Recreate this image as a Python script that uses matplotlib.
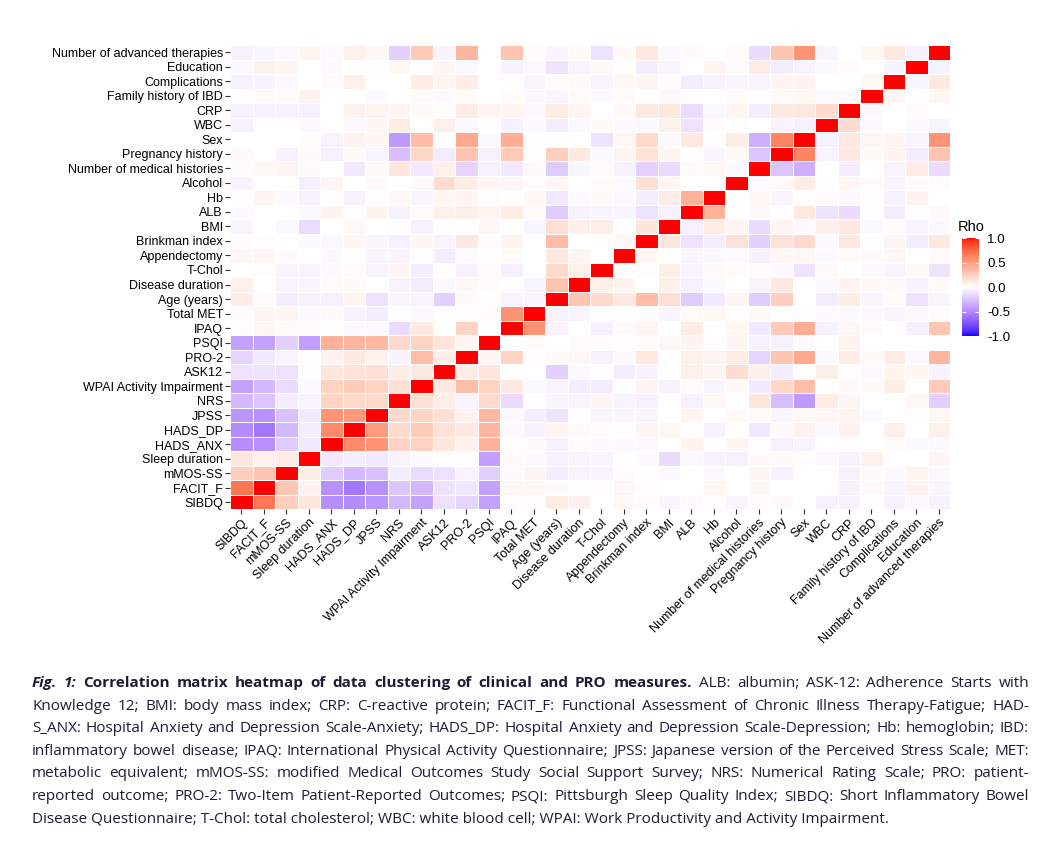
import numpy as np
import matplotlib
matplotlib.use("Agg")
import matplotlib.pyplot as plt
from matplotlib.colors import ListedColormap

W, H = 1061, 846

# == DATOS ==
labels = [
    "SIBDQ", "FACIT_F", "mMOS-SS", "Sleep duration", "HADS_ANX", "HADS_DP", "JPSS", "NRS",
    "WPAI Activity Impairment", "ASK12", "PRO-2", "PSQI", "IPAQ", "Total MET", "Age (years)",
    "Disease duration", "T-Chol", "Appendectomy", "Brinkman index", "BMI", "ALB", "Hb", "Alcohol",
    "Number of medical histories", "Pregnancy history", "Sex", "WBC", "CRP",
    "Family history of IBD", "Complications", "Education", "Number of advanced therapies",
]

# triangulo inferior: fila i -> columnas 0..i-1
rho_lower = [
    [],
    [0.68],
    [0.25, 0.3],
    [0.13, 0.07, 0.1],
    [-0.48, -0.47, -0.22, -0.1],
    [-0.5, -0.58, -0.3, -0.08, 0.6],
    [-0.45, -0.47, -0.27, -0.1, 0.55, 0.52],
    [-0.3, -0.25, -0.08, -0.05, 0.22, 0.2, 0.2],
    [-0.4, -0.3, -0.15, -0.02, 0.24, 0.28, 0.22, 0.16],
    [-0.13, -0.12, -0.13, -0.01, 0.13, 0.15, 0.17, 0.09, 0.11],
    [-0.18, -0.1, -0.05, 0.01, 0.07, 0.12, 0.07, -0.05, 0.35, 0.09],
    [-0.4, -0.4, -0.2, -0.42, 0.4, 0.38, 0.37, 0.2, 0.22, 0.14, 0.05],
    [0.01, 0.05, 0.03, 0.03, 0.0, -0.03, -0.03, -0.15, 0.12, 0.0, 0.22, 0.0],
    [0.01, 0.05, 0.05, -0.02, 0.03, -0.06, -0.08, 0.0, -0.03, 0.0, 0.01, 0.02, 0.55],
    [0.1, 0.02, -0.08, -0.06, -0.06, 0.06, -0.12, -0.04, -0.05, -0.2, 0.03, 0.0, -0.05, -0.05],
    [0.08, 0.0, -0.05, -0.05, 0.02, 0.03, 0.0, -0.05, -0.08, -0.03, 0.04, 0.02, 0.0, -0.04, 0.3],
    [0.0, 0.01, -0.05, -0.05, -0.02, 0.02, -0.04, 0.05, -0.08, 0.0, -0.06, 0.02, -0.07, 0.0, 0.2,
     0.08],
    [0.04, 0.05, 0.02, 0.0, -0.03, 0.0, -0.04, -0.05, 0.0, -0.08, -0.02, 0.01, 0.03, 0.0, 0.12,
     0.06, 0.0],
    [0.02, 0.01, 0.0, -0.02, -0.03, 0.05, -0.04, -0.07, 0.05, -0.05, 0.12, 0.02, 0.06, 0.0, 0.35,
     0.0, 0.01, 0.04],
    [-0.04, 0.0, -0.03, -0.15, 0.0, 0.04, 0.0, 0.0, -0.06, 0.0, 0.0, 0.04, 0.0, -0.04, 0.17,
     0.08, 0.09, 0.0, 0.13],
    [-0.02, 0.0, 0.0, -0.03, 0.06, 0.0, 0.06, -0.06, 0.02, 0.08, 0.08, 0.06, 0.1, 0.02, -0.22,
     -0.06, -0.04, -0.04, -0.13, -0.06],
    [0.01, 0.05, -0.03, -0.06, 0.0, -0.06, 0.0, 0.04, -0.04, 0.05, 0.06, 0.01, 0.0, 0.04, -0.1,
     -0.02, 0.03, -0.03, -0.08, 0.1, 0.4],
    [-0.05, 0.0, 0.0, -0.07, 0.05, 0.0, 0.03, 0.0, 0.03, 0.18, 0.1, 0.05, 0.05, 0.01, 0.05,
     0.0, 0.02, -0.02, 0.15, 0.05, 0.0, 0.0],
    [0.02, 0.04, 0.05, 0.03, 0.0, -0.1, 0.03, 0.13, -0.1, 0.08, -0.18, -0.06, -0.1, 0.03, -0.22,
     -0.04, 0.02, -0.06, -0.2, -0.15, 0.03, 0.04, -0.02],
    [0.03, 0.0, -0.06, 0.03, -0.07, 0.03, -0.04, -0.28, 0.21, -0.08, 0.3, -0.06, 0.28, 0.0, 0.25,
     0.12, -0.02, 0.05, 0.15, 0.05, 0.0, -0.04, 0.03, -0.25],
    [0.0, 0.0, 0.0, 0.01, -0.05, 0.07, 0.04, -0.43, 0.34, 0.0, 0.45, -0.02, 0.42, -0.01, 0.0,
     0.0, -0.12, 0.04, 0.2, -0.02, 0.12, 0.0, 0.1, -0.35, 0.62],
    [-0.06, 0.0, 0.0, -0.03, 0.0, -0.03, 0.05, 0.1, 0.0, 0.08, -0.03, 0.0, -0.06, -0.02, -0.08,
     -0.03, 0.03, -0.02, -0.03, 0.08, -0.12, 0.02, -0.01, 0.0, -0.05, -0.06],
    [-0.06, -0.06, -0.06, -0.06, 0.0, 0.07, 0.06, 0.05, 0.03, 0.01, 0.1, 0.06, 0.05, -0.03, 0.1,
     0.06, 0.0, 0.03, 0.12, 0.12, -0.15, -0.03, 0.05, -0.08, 0.12, 0.12, 0.18],
    [0.0, 0.03, 0.03, 0.07, 0.0, 0.0, -0.02, 0.0, 0.03, -0.02, 0.03, 0.0, 0.02, -0.03, -0.04,
     0.03, -0.02, 0.02, 0.0, -0.03, -0.01, 0.0, 0.02, 0.0, 0.03, 0.04, -0.02, -0.02],
    [-0.06, -0.05, -0.03, 0.0, 0.02, 0.08, 0.0, 0.0, 0.1, 0.06, 0.1, 0.0, 0.0, -0.04, 0.02,
     0.03, -0.05, 0.04, 0.05, 0.02, -0.08, -0.06, -0.04, -0.05, 0.06, 0.06, 0.0, 0.0, 0.04],
    [-0.03, 0.07, 0.05, 0.0, -0.02, 0.0, -0.01, 0.04, 0.0, 0.05, -0.03, 0.0, -0.06, -0.03, -0.12,
     -0.05, 0.03, 0.0, -0.08, -0.05, 0.0, 0.06, 0.02, 0.1, -0.08, -0.05, -0.02, 0.02, 0.0, -0.04],
    [-0.06, -0.04, -0.03, 0.05, -0.02, 0.08, 0.04, -0.2, 0.28, -0.05, 0.38, 0.0, 0.3, 0.02, -0.04,
     0.03, -0.12, 0.03, 0.12, -0.03, 0.03, 0.0, 0.02, -0.15, 0.3, 0.55, -0.04, 0.0, 0.04, 0.12,
     -0.06],
]

cbar_ticks = [-1.0, -0.5, 0.0, 0.5, 1.0]

caption_lines = [
    "Fig. 1: Correlation matrix heatmap of data clustering of clinical and PRO measures. ALB: albumin; ASK-12: Adherence Starts with",
    "Knowledge 12; BMI: body mass index; CRP: C-reactive protein; FACIT_F: Functional Assessment of Chronic Illness Therapy-Fatigue; HAD-",
    "S_ANX: Hospital Anxiety and Depression Scale-Anxiety; HADS_DP: Hospital Anxiety and Depression Scale-Depression; Hb: hemoglobin; IBD:",
    "inflammatory bowel disease; IPAQ: International Physical Activity Questionnaire; JPSS: Japanese version of the Perceived Stress Scale; MET:",
    "metabolic equivalent; mMOS-SS: modified Medical Outcomes Study Social Support Survey; NRS: Numerical Rating Scale; PRO: patient-",
    "reported outcome; PRO-2: Two-Item Patient-Reported Outcomes; PSQI: Pittsburgh Sleep Quality Index; SIBDQ: Short Inflammatory Bowel",
    "Disease Questionnaire; T-Chol: total cholesterol; WBC: white blood cell; WPAI: Work Productivity and Activity Impairment.",
]

n = len(labels)
rho = np.eye(n)
for i, row in enumerate(rho_lower):
    for j, v in enumerate(row):
        rho[i, j] = v
        rho[j, i] = v


# == PALETA (gradiente azul-blanco-rojo interpolado en Lab, como ggplot) ==
M_XYZ = np.array([[0.4124, 0.3576, 0.1805], [0.2126, 0.7152, 0.0722], [0.0193, 0.1192, 0.9505]])
WHITE = np.array([0.95047, 1.0, 1.08883])


def to_lab(rgb):
    rgb = np.asarray(rgb, float)
    lin = np.where(rgb <= 0.04045, rgb / 12.92, ((rgb + 0.055) / 1.055) ** 2.4)
    xyz = M_XYZ @ lin / WHITE
    f = np.where(xyz > 0.008856, np.cbrt(xyz), 7.787 * xyz + 16 / 116)
    return np.array([116 * f[1] - 16, 500 * (f[0] - f[1]), 200 * (f[1] - f[2])])


def from_lab(lab):
    fy = (lab[0] + 16) / 116
    f = np.array([fy + lab[1] / 500, fy, fy - lab[2] / 200])
    xyz = np.where(f ** 3 > 0.008856, f ** 3, (f - 16 / 116) / 7.787) * WHITE
    lin = np.clip(np.linalg.solve(M_XYZ, xyz), 0, 1)
    rgb = np.where(lin <= 0.0031308, 12.92 * lin, 1.055 * lin ** (1 / 2.4) - 0.055)
    return np.clip(rgb, 0, 1)


lab_lo, lab_mid, lab_hi = to_lab([0, 0, 1]), to_lab([1, 1, 1]), to_lab([1, 0, 0])
colors = []
for v in np.linspace(-1, 1, 256):
    if v < 0:
        colors.append(from_lab(lab_mid + (lab_lo - lab_mid) * (-v)))
    else:
        colors.append(from_lab(lab_mid + (lab_hi - lab_mid) * v))
cmap = ListedColormap(colors)

# == FIGURA ==
fig = plt.figure(figsize=(W / 100, H / 100), dpi=100)
ax = fig.add_axes([230 / W, 1 - 509.5 / H, 720 / W, 464.5 / H])

mesh = ax.pcolormesh(rho, cmap=cmap, vmin=-1, vmax=1, edgecolors="white", linewidth=0.5)
ax.set_xlim(0, n)
ax.set_ylim(0, n)
for s in ax.spines.values():
    s.set_visible(False)

tick_font = dict(family=["Liberation Sans", "DejaVu Sans"], size=9.0, color="black")
ax.set_xticks(np.arange(n) + 0.5)
ax.set_yticks(np.arange(n) + 0.5)
ax.set_xticklabels(labels, rotation=45, ha="right", va="top", rotation_mode="anchor", **tick_font)
ax.set_yticklabels(labels, **tick_font)
ax.tick_params(length=3.6, width=0.8, pad=1.5, color="#333333")

# Barra de color
cax = fig.add_axes([962 / W, 1 - 336 / H, 17 / W, 98 / H])
cb = fig.colorbar(mesh, cax=cax, ticks=cbar_ticks)
cb.outline.set_visible(False)
cax.set_yticklabels([f"{t:.1f}" for t in cbar_ticks], family=["Liberation Sans", "DejaVu Sans"],
                    size=9.6, color="black")
cax.tick_params(axis="y", direction="in", colors="white", length=3, width=0.8,
                left=True, right=True, pad=6)
for t in cax.get_yticklabels():
    t.set_color("black")
fig.text(958 / W, 1 - 227 / H, "Rho", family=["Liberation Sans", "DejaVu Sans"], size=10.5,
         va="center", ha="left")

# == PIE DE FIGURA (justificado) ==
renderer = fig.canvas.get_renderer()
cap_color = "#1c1c38"
cap_size = 11.0
x_left, x_right = 32, 1029
styles = {
    "bi": dict(weight="bold", style="italic"),
    "b": dict(weight="bold"),
    "r": dict(),
}

for k, line in enumerate(caption_lines):
    y = 1 - (687 + 22.6 * k) / H
    words = line.split(" ")
    if k == len(caption_lines) - 1:
        fig.text(x_left / W, y, line, family=["Open Sans", "DejaVu Sans"], size=cap_size,
                 color=cap_color, va="baseline", ha="left")
        continue
    texts = []
    for w_i, word in enumerate(words):
        st = "r"
        if k == 0 and w_i < 2:
            st = "bi"
        elif k == 0 and w_i < 13:
            st = "b"
        texts.append(fig.text(0, y, word, family=["Open Sans", "DejaVu Sans"], size=cap_size,
                              color=cap_color, va="baseline", ha="left", **styles[st]))
    widths = [t.get_window_extent(renderer).width for t in texts]
    gap = (x_right - x_left - sum(widths)) / (len(texts) - 1)
    x = x_left
    for t, w in zip(texts, widths):
        t.set_x(x / W)
        x += w + gap

fig.savefig("out.png", dpi=100, facecolor="white")
